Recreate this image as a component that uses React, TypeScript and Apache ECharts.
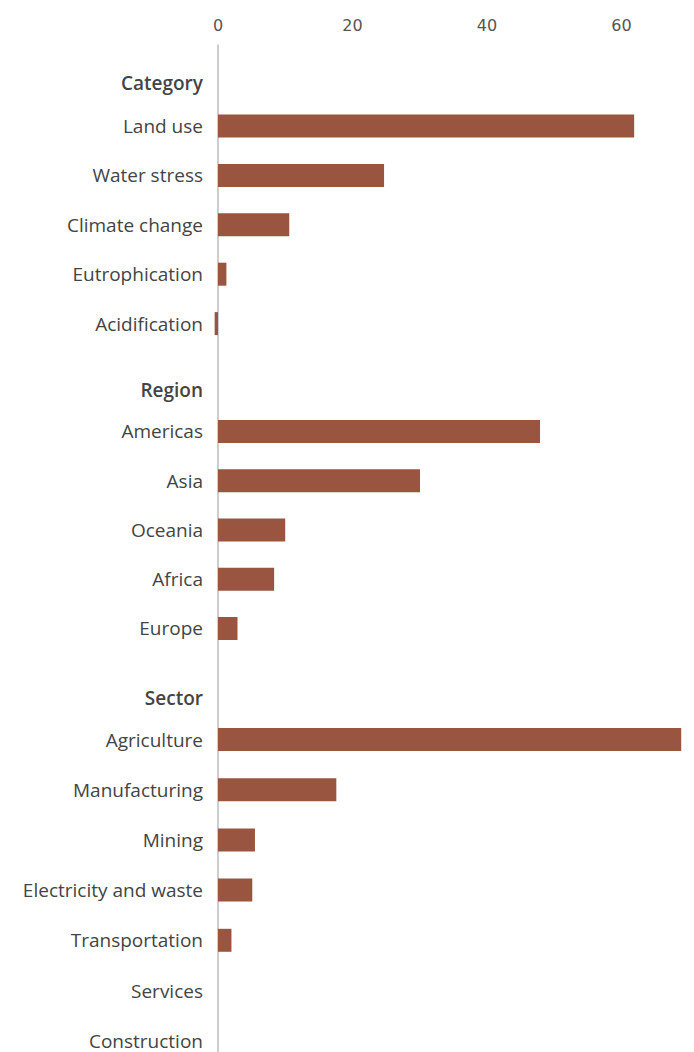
import React, { useEffect, useRef } from "react";
import * as echarts from "echarts";

const tickValues = [0, 20, 40, 60];
const headers = ["Category", "Region", "Sector"];
const categoryLabels = ["Land use", "Water stress", "Climate change", "Eutrophication", "Acidification"];
const categoryValues = [61.9, 24.7, 10.6, 1.25, -0.5];
const regionLabels = ["Americas", "Asia", "Oceania", "Africa", "Europe"];
const regionValues = [47.9, 30.05, 10.0, 8.35, 2.9];
const sectorLabels = ["Agriculture", "Manufacturing", "Mining", "Electricity and waste", "Transportation", "Services", "Construction"];
const sectorValues = [68.9, 17.6, 5.5, 5.1, 2.0, 0, 0];

const X_MAX = 70.8;
const LEFT = 218;
const BAR = "#9a5540";
const TEXT = "#444444";
const FONT = "Open Sans";

export default function App() {
  const ref = useRef<HTMLDivElement>(null);
  useEffect(() => {
    document.body.style.margin = "0";
    document.body.style.overflow = "hidden";
    document.documentElement.style.overflow = "hidden";
    const chart = echarts.init(ref.current!, undefined, { renderer: "svg" });
    const groups = [
      { head: headers[0], labels: categoryLabels, values: categoryValues, top: 51.9, height: 296.4, pad: 13 },
      { head: headers[1], labels: regionLabels, values: regionValues, top: 357.6, height: 295.5, pad: 15 },
      { head: headers[2], labels: sectorLabels, values: sectorValues, top: 664.2, height: 401.6, pad: 17 },
    ];
    const grids: any[] = [{ left: LEFT, right: 0, top: 45, height: 1100 }];
    const xAxes: any[] = [
      {
        gridIndex: 0,
        type: "value",
        position: "top",
        min: 0,
        max: X_MAX,
        interval: 20,
        axisLine: { show: true, lineStyle: { color: "#bdbdbd", width: 1.5 } },
        axisTick: { show: false },
        splitLine: { show: false },
        axisLabel: {
          margin: 12,
          fontSize: 16,
          fontFamily: "DejaVu Sans",
          color: "#555555",
          showMaxLabel: false,
          formatter: (v: number) => (tickValues.includes(v) ? String(v) : ""),
        },
      },
    ];
    const yAxes: any[] = [
      {
        gridIndex: 0,
        type: "value",
        min: 0,
        max: 1,
        axisLine: { show: true, lineStyle: { color: "#bdbdbd", width: 1.5 } },
        axisTick: { show: false },
        axisLabel: { show: false },
        splitLine: { show: false },
      },
    ];
    const series: any[] = [];
    groups.forEach((g, i) => {
      const gi = i + 1;
      grids.push({ left: LEFT, right: 0, top: g.top, height: g.height });
      xAxes.push({ gridIndex: gi, type: "value", min: 0, max: X_MAX, show: false });
      yAxes.push({
        gridIndex: gi,
        type: "category",
        inverse: true,
        data: [g.head, ...g.labels],
        axisLine: { show: false },
        axisTick: { show: false },
        splitLine: { show: false },
        axisLabel: {
          margin: 15,
          fontSize: 19,
          fontFamily: FONT,
          color: TEXT,
          formatter: (v: string) => (headers.includes(v) ? `{h|${v}}` : v),
          rich: {
            h: { fontSize: 19, fontFamily: FONT, fontWeight: 600, color: TEXT, padding: [g.pad, 0, 0, 0] },
          },
        },
      });
      series.push({
        type: "bar",
        xAxisIndex: gi,
        yAxisIndex: gi,
        data: ["-", ...g.values],
        barWidth: 23,
        clip: false,
        itemStyle: { color: BAR },
      });
    });
    chart.setOption({
      animation: false,
      backgroundColor: "#ffffff",
      grid: grids,
      xAxis: xAxes,
      yAxis: yAxes,
      series,
    });
    return () => chart.dispose();
  }, []);
  return <div ref={ref} style={{ width: 694, height: 1120 }} />;
}
